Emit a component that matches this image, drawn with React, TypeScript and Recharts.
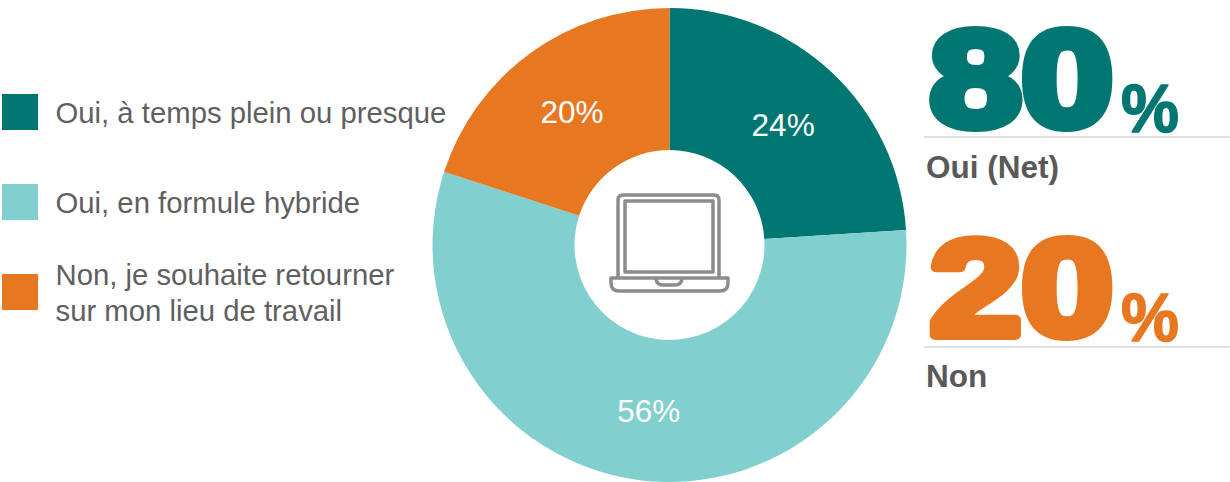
import { PieChart, Pie, Cell } from 'recharts';

const categories = ['Oui, à temps plein ou presque', 'Oui, en formule hybride', 'Non, je souhaite retourner\nsur mon lieu de travail'];
const values = [24, 56, 20];
const colors = ['#007672', '#82CFCF', '#E87722'];
const legendTops = [94, 184, 274];

const netLabels = ['Oui (Net)', 'Non'];
const netValues = [80, 20];
const netColors = ['#007672', '#E87722'];

const data = categories.map((name, i) => ({ name, value: values[i] }));

const RADIAN = Math.PI / 180;
const FONT = '"Liberation Sans", Arial, sans-serif';

const renderLabel = ({ cx, cy, midAngle, innerRadius, outerRadius, value }: any) => {
  const r = (innerRadius + outerRadius) / 2;
  return (
    <text
      x={cx + r * Math.cos(-midAngle * RADIAN)}
      y={cy + r * Math.sin(-midAngle * RADIAN) + 1}
      fill="#fff"
      fontSize={31.5}
      fontFamily={FONT}
      textAnchor="middle"
      dominantBaseline="central"
    >
      {value}%
    </text>
  );
};

function LaptopIcon() {
  return (
    <svg width={1230} height={482} style={{ position: 'absolute', left: 0, top: 0 }}>
      <g fill="none" stroke="#8C8C8C" strokeWidth={3.5} strokeLinejoin="round">
        <path d="M618 278 V200 Q618 195 623 195 H714 Q719 195 719 200 V278" />
        <rect x={625} y={201} width={88} height={71} />
        <path d="M611 278 H728 V283 Q728 291 720 291 H619 Q611 291 611 283 Z" />
        <path d="M656 279 Q657 285 663 285 H675 Q681 285 682 279" />
      </g>
    </svg>
  );
}

function BigNumbers() {
  const baselines = [126, 335];
  return (
    <svg width={1230} height={482} style={{ position: 'absolute', left: 0, top: 0 }}>
      {netValues.map((v, i) => (
        <g key={netLabels[i]} fontFamily={FONT} fontWeight="bold" fill={netColors[i]} stroke={netColors[i]} strokeLinejoin="round">
          <text x={930} y={baselines[i]} fontSize={136} strokeWidth={10} textLength={183} lengthAdjust="spacingAndGlyphs">
            {v}
          </text>
          <text x={1121} y={baselines[i] + 6} fontSize={68} strokeWidth={1.5} textLength={58} lengthAdjust="spacingAndGlyphs">
            %
          </text>
        </g>
      ))}
      <line x1={924} x2={1230} y1={137} y2={137} stroke="#BFBFBF" strokeWidth={1} />
      <line x1={924} x2={1230} y1={347} y2={347} stroke="#BFBFBF" strokeWidth={1} />
      <text x={926} y={178} fontFamily={FONT} fontWeight="bold" fontSize={31.5} fill="#595959">{netLabels[0]}</text>
      <text x={926} y={387} fontFamily={FONT} fontWeight="bold" fontSize={31.5} fill="#595959">{netLabels[1]}</text>
    </svg>
  );
}

export default function App() {
  return (
    <div style={{ position: 'absolute', left: 0, top: 0, width: 1230, height: 482, overflow: 'hidden', background: '#fff', fontFamily: FONT }}>
      <div style={{ position: 'absolute', left: 0, top: 0 }}>
        <PieChart width={1230} height={482} margin={{ top: 0, right: 0, bottom: 0, left: 0 }}>
          <Pie
            data={data}
            dataKey="value"
            cx={669.5}
            cy={245}
            startAngle={90}
            endAngle={-270}
            innerRadius={95}
            outerRadius={237}
            stroke="none"
            label={renderLabel}
            labelLine={false}
            isAnimationActive={false}
          >
            {data.map((_, i) => (
              <Cell key={i} fill={colors[i]} />
            ))}
          </Pie>
        </PieChart>
      </div>
      <LaptopIcon />
      <BigNumbers />
      {categories.map((c, i) => (
        <div key={c}>
          <div style={{ position: 'absolute', left: 2, top: legendTops[i], width: 36, height: 36, background: colors[i] }} />
          <div
            style={{
              position: 'absolute',
              left: 55.5,
              top: legendTops[i] + 19,
              transform: 'translateY(-50%)',
              fontSize: 29.3,
              lineHeight: '36px',
              color: '#5F5F5F',
              whiteSpace: 'pre',
            }}
          >
            {c}
          </div>
        </div>
      ))}
    </div>
  );
}
